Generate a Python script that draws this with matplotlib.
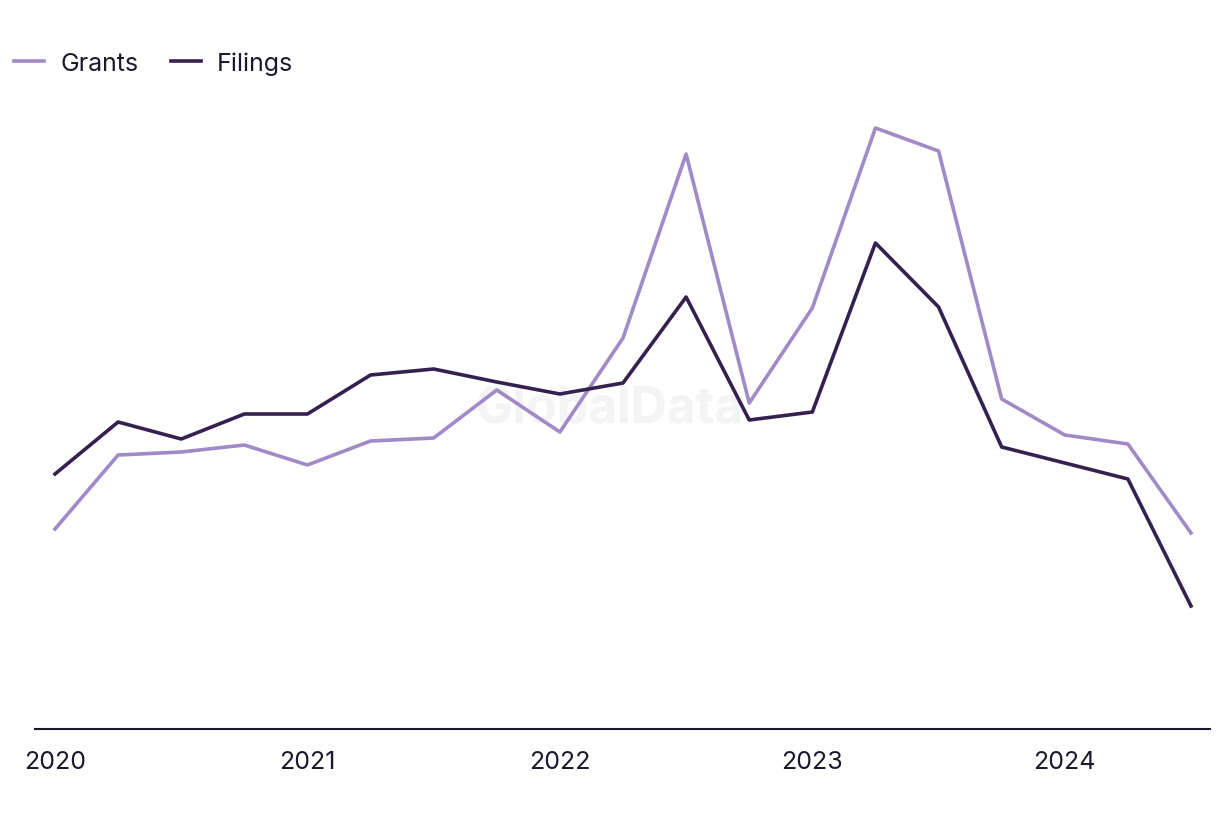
import matplotlib
matplotlib.use('Agg')
import matplotlib.pyplot as plt

# quarterly values 2020 Q1 .. 2024 Q3 (arbitrary units)
quarters = ['2020Q1', '2020Q2', '2020Q3', '2020Q4',
            '2021Q1', '2021Q2', '2021Q3', '2021Q4',
            '2022Q1', '2022Q2', '2022Q3', '2022Q4',
            '2023Q1', '2023Q2', '2023Q3', '2023Q4',
            '2024Q1', '2024Q2', '2024Q3']
grants = [200, 274, 277, 284, 264, 288, 291, 339, 297, 391,
          575, 326, 421, 601, 578, 330, 294, 285, 196]
filings = [255, 307, 290, 315, 315, 354, 360, 347, 335, 346,
           432, 309, 317, 486, 422, 282, 266, 250, 123]
year_labels = ['2020', '2021', '2022', '2023', '2024']

plt.rcParams['font.family'] = ['Inter', 'DejaVu Sans']

fig = plt.figure(figsize=(12.2, 8.2), dpi=100)
ax = fig.add_axes([35 / 1220, 90 / 820, 1175 / 1220, 630 / 820])

x = list(range(len(quarters)))
ax.plot(x, grants, color='#a08ac8', lw=2.6, label='Grants', zorder=3)
ax.plot(x, filings, color='#35214f', lw=2.6, label='Filings', zorder=3)

ax.set_xlim(-20 / 63.11, 18 + 19 / 63.11)
ax.set_ylim(0, 630)

for s in ['top', 'right', 'left']:
    ax.spines[s].set_visible(False)
ax.spines['bottom'].set_color('#1a1a2e')
ax.spines['bottom'].set_linewidth(1.5)
ax.set_yticks([])
ax.set_xticks([i for i, q in enumerate(quarters) if q.endswith('Q1')])
ax.set_xticklabels(year_labels, fontsize=18, color='#1a1a2e')
ax.tick_params(axis='x', length=0, pad=15)

# faint watermark behind the lines
ax.text(610 / 1220, 1 - 410 / 820, 'GlobalData', transform=fig.transFigure,
        fontsize=36, fontweight='bold', color='#f4f4f4',
        ha='center', va='center', zorder=0)

fig.legend(loc='upper left', bbox_to_anchor=(-0.007, 0.964), ncol=2, frameon=False,
           fontsize=18, handlelength=1.2, handletextpad=0.65, columnspacing=1.3,
           labelcolor='#1a1a2e')

fig.savefig('out.png', dpi=100, facecolor='white')
